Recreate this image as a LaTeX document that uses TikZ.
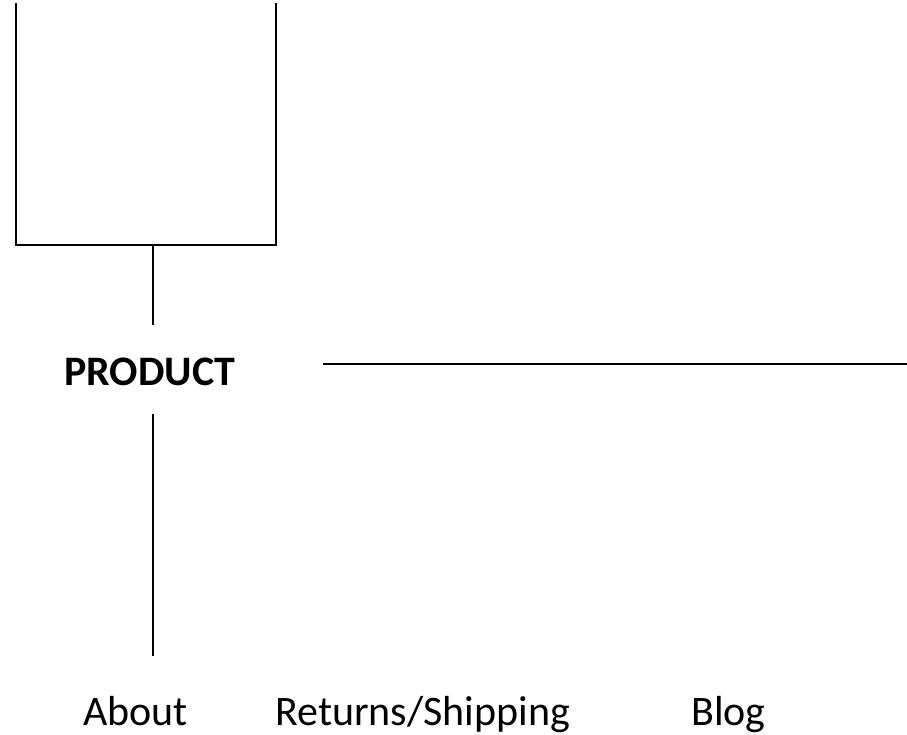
\documentclass[tikz,border=0pt]{standalone}
\usepackage{fontspec}
\setmainfont{Carlito}
\begin{document}
\begin{tikzpicture}[x=1pt,y=-1pt,
    rule/.style={line width=1.6pt,black},
    label/.style={inner sep=0pt,anchor=base west,font=\fontsize{42}{50}\selectfont},
    headlabel/.style={label,font=\fontsize{42}{50}\selectfont\bfseries}]
  \useasboundingbox (0,0) rectangle (907,734);

  % open box at the top
  \coordinate (boxTL) at (16,3);
  \coordinate (boxBL) at (16,245);
  \coordinate (boxBR) at (276,245);
  \coordinate (boxTR) at (276,3);
  \coordinate (boxMid) at (153,245);
  \draw[rule] (boxTL) -- (boxBL) -- (boxBR) -- (boxTR);

  % heading and menu entries
  \node[headlabel] (product) at (64,385) {PRODUCT};
  \node[label] (about) at (83,725) {About};
  \node[label] (returns) at (275,725) {Returns/Shipping};
  \node[label] (blog) at (691,725) {Blog};

  % connector ends
  \coordinate (prodTop) at (153,325);
  \coordinate (prodBot) at (153,414);
  \coordinate (aboutTop) at (153,656);
  \coordinate (ruleStart) at (323,364);
  \coordinate (ruleEnd) at (907,364);

  \draw[rule] (boxMid) -- (prodTop);
  \draw[rule] (prodBot) -- (aboutTop);
  \draw[rule] (ruleStart) -- (ruleEnd);
\end{tikzpicture}
\end{document}
